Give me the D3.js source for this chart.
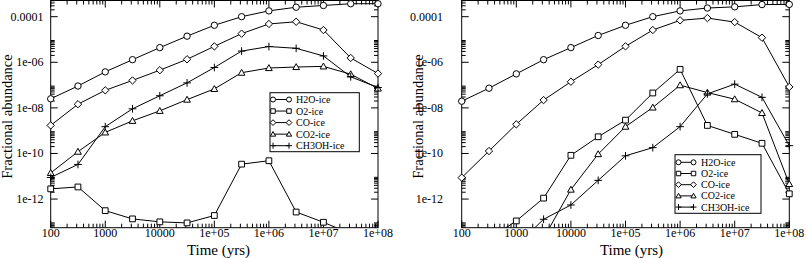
<!DOCTYPE html>
<html><head><meta charset="utf-8">
<script src="https://cdn.jsdelivr.net/npm/d3@7"></script>
<style>
html,body{margin:0;padding:0;background:#fff;}
svg{display:block;}
svg text{font-family:"Liberation Serif","Times New Roman","DejaVu Serif",serif;}
</style></head>
<body><svg id="chart" width="806" height="258" font-family="Liberation Serif, Times New Roman, serif"></svg>
<script>
// ---- data ----
const times = [1e2, 3.16e2, 1e3, 3.16e3, 1e4, 3.16e4, 1e5, 3.16e5, 1e6, 3.16e6, 1e7, 3.16e7, 1e8];
const seriesNames = ["H2O-ice", "O2-ice", "CO-ice", "CO2-ice", "CH3OH-ice"];

// left panel
const h2oA   = [2.5e-8, 9.1e-8, 3.8e-7, 1.3e-6, 4.4e-6, 1.4e-5, 4.2e-5, 1e-4, 1.8e-4, 2.6e-4, 3.1e-4, 3.7e-4, 3.7e-4];
const o2A    = [2.8e-12, 3.4e-12, 3.1e-13, 1.35e-13, 1e-13, 9e-14, 1.9e-13, 3.4e-11, 4.8e-11, 2.7e-13, 9.6e-14, 3e-14, 1e-14];
const coA    = [1.7e-9, 1.45e-8, 5.9e-8, 1.6e-7, 4.5e-7, 1.35e-6, 5e-6, 1.8e-5, 4.8e-5, 6e-5, 2.6e-5, 1.55e-6, 3.2e-7];
const co2A   = [1.4e-11, 1.2e-10, 8.4e-10, 2.7e-9, 7.4e-9, 2.3e-8, 6.8e-8, 3.5e-7, 5.6e-7, 6.2e-7, 6.6e-7, 3e-7, 7.1e-8];
const ch3ohA = [8.9e-12, 3.3e-11, 1.5e-9, 9.1e-9, 3.4e-8, 1.25e-7, 5.9e-7, 3.1e-6, 4.9e-6, 4.1e-6, 1.9e-6, 2.3e-7, 7.8e-8];

// right panel
const h2oB   = [1.96e-8, 7.3e-8, 3.1e-7, 1.3e-6, 4.4e-6, 1.5e-5, 4.2e-5, 1e-4, 1.8e-4, 2.4e-4, 2.7e-4, 3.4e-4, 3.45e-4];
const o2B    = [1e-15, 1.8e-14, 1.1e-13, 1.1e-12, 8.3e-11, 5.4e-10, 2.9e-9, 4.5e-8, 4.9e-7, 1.7e-9, 6.9e-10, 2.8e-10, 1.7e-12];
const coB    = [8.7e-12, 1.28e-10, 1.9e-9, 2.2e-8, 1.4e-7, 7.9e-7, 5e-6, 2.6e-5, 6.9e-5, 8.7e-5, 5.8e-5, 1.2e-5, 8.3e-8];
const co2B   = [1e-17, 1e-16, 1e-15, 1.9e-14, 2.6e-12, 9.4e-11, 1.5e-9, 1.04e-8, 9.9e-8, 4.7e-8, 2.4e-8, 6e-9, 4.6e-12];
const ch3ohB = [1e-16, 1e-15, 9e-15, 1.3e-13, 5.5e-13, 6.6e-12, 7.9e-11, 1.8e-10, 1.5e-9, 4.1e-8, 1.1e-7, 2.9e-8, 2.2e-10];

const xTickValues = [1e2, 1e3, 1e4, 1e5, 1e6, 1e7, 1e8];
const xTickLabels = ["100", "1000", "10000", "1e+05", "1e+06", "1e+07", "1e+08"];
const yTickValues = [1e-12, 1e-10, 1e-8, 1e-6, 1e-4];
const yTickLabels = ["1e-12", "1e-10", "1e-08", "1e-06", "0.0001"];
const xDomain = [1e2, 1e8];
const yDomain = [Math.pow(10, -13.256), Math.pow(10, -3.29)];
const xTitle = "Time (yrs)";
const yTitle = "Fractional abundance";

// ---- drawing ----
const FONT = "'Liberation Serif', 'Times New Roman', 'DejaVu Serif', serif";
const svg = d3.select("#chart");
const symbols = ["circle", "square", "diamond", "triangle", "plus"];

function markerPath(type, s) {
  const p = d3.path();
  if (type === "circle") { p.moveTo(s, 0); p.arc(0, 0, s, 0, 2 * Math.PI); }
  else if (type === "square") { p.rect(-s * 0.9, -s * 0.9, s * 1.8, s * 1.8); }
  else if (type === "diamond") { p.moveTo(0, -s * 1.15); p.lineTo(s * 1.15, 0); p.lineTo(0, s * 1.15); p.lineTo(-s * 1.15, 0); p.closePath(); }
  else if (type === "triangle") { p.moveTo(0, -s * 1.05); p.lineTo(s * 1.05, s * 0.8); p.lineTo(-s * 1.05, s * 0.8); p.closePath(); }
  else if (type === "plus") { p.moveTo(-s * 1.2, 0); p.lineTo(s * 1.2, 0); p.moveTo(0, -s * 1.2); p.lineTo(0, s * 1.2); }
  return p.toString();
}

function txt(g) { return g.append("text").style("font-family", FONT).attr("fill", "#000"); }

function panel(cfg) {
  const { id, left, right, top, bottom, data, legend, yLabelX, yTitleX, xTitleX } = cfg;
  const g = svg.append("g");
  const x = d3.scaleLog().domain(xDomain).range([left, right]);
  const y = d3.scaleLog().domain(yDomain).range([bottom, top]);

  g.append("clipPath").attr("id", "clip" + id)
    .append("rect").attr("x", left).attr("y", top).attr("width", right - left).attr("height", bottom - top);

  // frame
  g.append("rect").attr("x", left).attr("y", top).attr("width", right - left).attr("height", bottom - top)
    .attr("fill", "none").attr("stroke", "#000").attr("stroke-width", 1);

  // x ticks
  const xMinor = [];
  for (let k = 2; k < 8; k++) for (let m = 2; m <= 9; m++) xMinor.push(m * Math.pow(10, k));
  const tk = g.append("g").attr("stroke", "#000").attr("stroke-width", 1);
  xTickValues.forEach(v => {
    const px = x(v);
    tk.append("line").attr("x1", px).attr("x2", px).attr("y1", bottom).attr("y2", bottom - 7);
    tk.append("line").attr("x1", px).attr("x2", px).attr("y1", top).attr("y2", top + 7);
  });
  xMinor.forEach(v => {
    const px = x(v);
    tk.append("line").attr("x1", px).attr("x2", px).attr("y1", bottom).attr("y2", bottom - 4);
    tk.append("line").attr("x1", px).attr("x2", px).attr("y1", top).attr("y2", top + 4);
  });
  // y ticks
  const yMinor = [];
  for (let k = -14; k <= -4; k += 2) for (let m = 2; m <= 9; m++) {
    const v = m * Math.pow(10, k);
    if (v > yDomain[0] && v < yDomain[1]) yMinor.push(v);
  }
  yTickValues.forEach(v => {
    const py = y(v);
    tk.append("line").attr("x1", left).attr("x2", left + 7).attr("y1", py).attr("y2", py);
    tk.append("line").attr("x1", right).attr("x2", right - 7).attr("y1", py).attr("y2", py);
  });
  yMinor.forEach(v => {
    const py = y(v);
    tk.append("line").attr("x1", left).attr("x2", left + 4).attr("y1", py).attr("y2", py);
    tk.append("line").attr("x1", right).attr("x2", right - 4).attr("y1", py).attr("y2", py);
  });

  // tick labels
  xTickValues.forEach((v, i) => {
    txt(g).attr("x", x(v)).attr("y", bottom + 9.5).attr("text-anchor", "middle")
      .attr("font-size", 12).text(xTickLabels[i]);
  });
  yTickValues.forEach((v, i) => {
    txt(g).attr("x", yLabelX).attr("y", y(v) + 4).attr("text-anchor", "end")
      .attr("font-size", 12).text(yTickLabels[i]);
  });

  // titles
  txt(g).attr("x", xTitleX).attr("y", 254.5).attr("text-anchor", "middle")
    .attr("font-size", 15).text(xTitle);
  txt(g).attr("transform", `translate(${yTitleX},116.5) rotate(-90)`).attr("text-anchor", "middle")
    .attr("font-size", 14.5).text(yTitle);

  // series lines
  const line = d3.line().x(d => x(d[0])).y(d => y(d[1]));
  const lg = g.append("g").attr("clip-path", `url(#clip${id})`);
  data.forEach(vals => {
    const pts = times.map((t, i) => [t, vals[i]]);
    lg.append("path").attr("d", line(pts)).attr("fill", "none").attr("stroke", "#000").attr("stroke-width", 1);
  });
  // markers
  const mg = g.append("g");
  data.forEach((vals, si) => {
    times.forEach((t, i) => {
      const py = y(vals[i]);
      if (py > bottom + 1 || py < top - 1) return;
      mg.append("path").attr("transform", `translate(${x(t)},${py})`)
        .attr("d", markerPath(symbols[si], 3.2))
        .attr("fill", "#fff").attr("stroke", "#000").attr("stroke-width", 1);
    });
  });

  // legend
  const L = legend;
  g.append("rect").attr("x", L.x).attr("y", L.y).attr("width", L.w).attr("height", L.h)
    .attr("fill", "#fff").attr("stroke", "#000").attr("stroke-width", 1);
  seriesNames.forEach((name, i) => {
    const ey = L.y0 + i * L.dy;
    g.append("line").attr("x1", L.sx1).attr("x2", L.sx2).attr("y1", ey).attr("y2", ey)
      .attr("stroke", "#000").attr("stroke-width", 1);
    [L.sx1, L.sx2].forEach(sx => {
      g.append("path").attr("transform", `translate(${sx},${ey})`)
        .attr("d", markerPath(symbols[i], 2.5))
        .attr("fill", "#fff").attr("stroke", "#000").attr("stroke-width", 1);
    });
    txt(g).attr("x", L.tx).attr("y", ey + 3.5).attr("font-size", 10).text(name);
  });
}

panel({
  id: "A", left: 50.7, right: 378, top: 0.5, bottom: 227.7,
  data: [h2oA, o2A, coA, co2A, ch3ohA],
  legend: { x: 270, y: 92.7, w: 89.3, h: 59, y0: 99.5, dy: 11.55, sx1: 273, sx2: 289, tx: 296 },
  yLabelX: 43.5, yTitleX: 12, xTitleX: 218.5
});
panel({
  id: "B", left: 461.7, right: 789.3, top: 0.5, bottom: 227.7,
  data: [h2oB, o2B, coB, co2B, ch3ohB],
  legend: { x: 675, y: 154.7, w: 86, h: 58.6, y0: 162.3, dy: 11.2, sx1: 678.5, sx2: 693.5, tx: 701 },
  yLabelX: 443, yTitleX: 422.5, xTitleX: 631.5
});
</script>
</body></html>
